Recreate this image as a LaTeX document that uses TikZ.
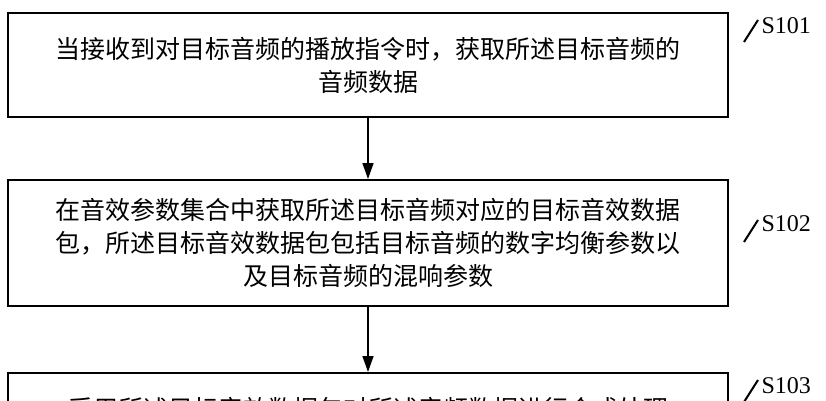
\documentclass[tikz,border=0pt]{standalone}
\usepackage{fontspec}
\setmainfont{Liberation Serif}
\newfontfamily\cjk{Noto Sans CJK SC}
\usetikzlibrary{arrows.meta}
\begin{document}
\begin{tikzpicture}[x=1pt,y=-1pt,
  stepbox/.style={draw,line width=2pt,minimum width=720,align=center,font=\cjk\fontsize{25}{33}\selectfont,inner sep=0},
  arr/.style={line width=1.5pt,-{Triangle[length=16,width=11]}},
  lbl/.style={font=\fontsize{24}{24}\selectfont,anchor=west}]
\useasboundingbox (0,0) rectangle (826,400);
\node[stepbox,minimum height=104] (b1) at (368,65) {当接收到对目标音频的播放指令时，获取所述目标音频的\\音频数据};
\node[stepbox,minimum height=126] (b2) at (368,243) {在音效参数集合中获取所述目标音频对应的目标音效数据\\包，所述目标音效数据包包括目标音频的数字均衡参数以\\及目标音频的混响参数};
\node[stepbox,minimum height=60,anchor=north,text depth=0pt] (b3) at (368,372) {\raisebox{-10pt}{采用所述目标音效数据包对所述音频数据进行合成处理}};
\draw[arr] (b1.south) -- (b2.north);
\draw[arr] (b2.south) -- (b3.north);
\coordinate (s1) at (744,42); \coordinate (e1) at (758,20);
\coordinate (s2) at (744,242); \coordinate (e2) at (758,220);
\coordinate (s3) at (744,402); \coordinate (e3) at (758,380);
\draw[line width=2pt] (s1) -- (e1); \node[lbl] (l1) at (758,26) {S101};
\draw[line width=2pt] (s2) -- (e2); \node[lbl] (l2) at (758,224) {S102};
\draw[line width=2pt] (s3) -- (e3); \node[lbl] (l3) at (758,386) {S103};
\end{tikzpicture}
\end{document}
